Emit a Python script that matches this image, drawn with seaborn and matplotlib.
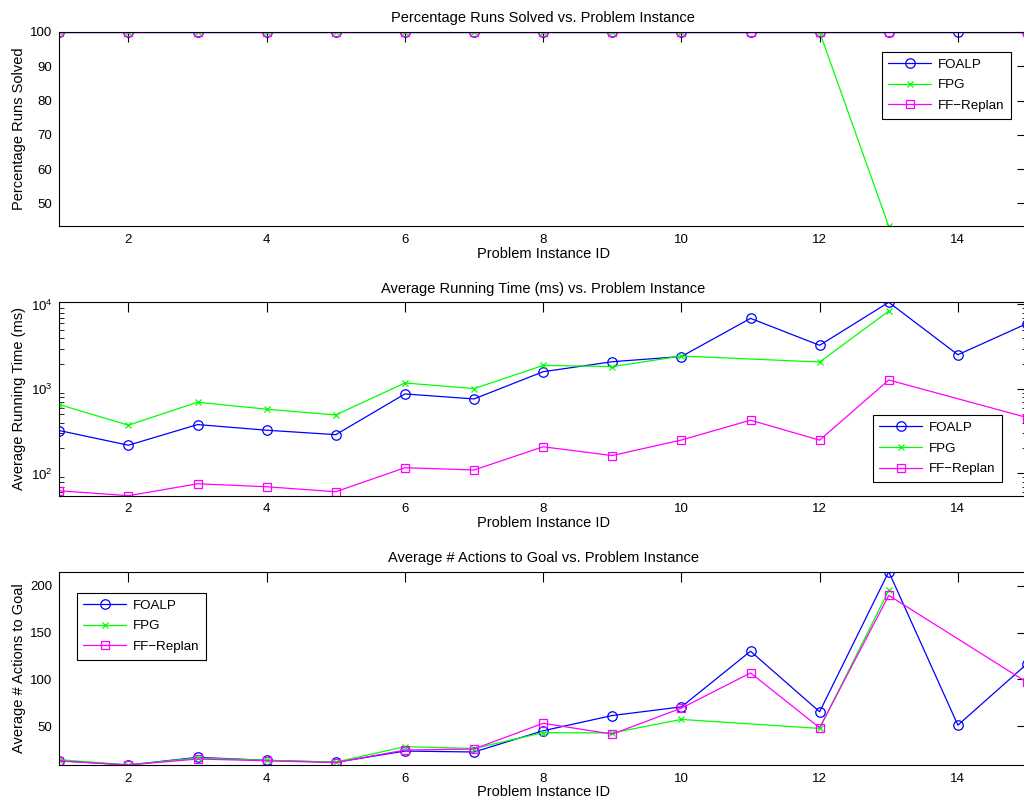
import matplotlib
matplotlib.use("Agg")
import matplotlib.pyplot as plt
import matplotlib.ticker as mticker
import seaborn as sns

# Problem instances covered by each planner
foalp_ids = [1, 2, 3, 4, 5, 6, 7, 8, 9, 10, 11, 12, 13, 14, 15]
fpg_ids = [1, 2, 3, 4, 5, 6, 7, 8, 9, 10, 12, 13]
ff_ids = [1, 2, 3, 4, 5, 6, 7, 8, 9, 10, 11, 12, 13, 15]

# Percentage of runs solved
foalp_solved = [100, 100, 100, 100, 100, 100, 100, 100, 100, 100, 100, 100, 100, 100, 100]
fpg_solved = [100, 100, 100, 100, 100, 100, 100, 100, 100, 100, 100, 43.3]
ff_solved = [100, 100, 100, 100, 100, 100, 100, 100, 100, 100, 100, 100, 100, 100]

# Average running time (ms)
foalp_time = [322, 216, 379, 325, 288, 873, 762, 1600, 2100, 2420, 6840, 3283, 10600, 2540, 5940]
fpg_time = [653, 373, 697, 576, 493, 1177, 1010, 1900, 1840, 2450, 2084, 8340]
ff_time = [62.5, 54.6, 75.5, 69.7, 60.8, 117, 110, 207, 163, 249, 427, 248, 1277, 459]

# Average number of actions to goal
foalp_actions = [13, 8.4, 16.6, 13.4, 11.3, 23.3, 22.3, 45, 61.3, 70.5, 130, 65.3, 215, 51, 116.5]
fpg_actions = [14.1, 8.5, 15.9, 13.4, 11.5, 28, 26, 43, 42.7, 57.1, 47.5, 195]
ff_actions = [12.7, 8.4, 14.8, 12.9, 11, 24.4, 25.5, 53, 41.4, 69.2, 106.8, 48.2, 189.7, 96.7]

series_names = ["FOALP", "FPG", "FF\u2212Replan"]
colors = ["#0000ff", "#00ff00", "#ff00ff"]
markers = ["o", "x", "s"]
marker_sizes = [6.8, 4.5, 5.6]

panels = [
    dict(title="Percentage Runs Solved vs. Problem Instance",
         ylabel="Percentage Runs Solved",
         data=[foalp_solved, fpg_solved, ff_solved],
         log=False, yticks=[50, 60, 70, 80, 90, 100],
         legend_anchor=(881.7, 51.7)),
    dict(title="Average Running Time (ms) vs. Problem Instance",
         ylabel="Average Running Time (ms)",
         data=[foalp_time, fpg_time, ff_time],
         log=True, yticks=None,
         legend_anchor=(872.7, 415.0)),
    dict(title="Average # Actions to Goal vs. Problem Instance",
         ylabel="Average # Actions to Goal",
         data=[foalp_actions, fpg_actions, ff_actions],
         log=False, yticks=[50, 100, 150, 200],
         legend_anchor=(76.7, 592.7)),
]
id_lists = [foalp_ids, fpg_ids, ff_ids]
xticks = [2, 4, 6, 8, 10, 12, 14]

sns.set_theme(style="white")
plt.rcParams["font.family"] = ["Liberation Sans", "DejaVu Sans"]
plt.rcParams["axes.edgecolor"] = "black"
plt.rcParams["axes.linewidth"] = 0.8
plt.rcParams["text.color"] = "black"
plt.rcParams["axes.labelcolor"] = "black"
plt.rcParams["xtick.color"] = "black"
plt.rcParams["ytick.color"] = "black"
plt.rcParams["mathtext.fontset"] = "custom"
plt.rcParams["mathtext.rm"] = "Liberation Sans"

W, H = 1024, 801
fig = plt.figure(figsize=(W / 100, H / 100), dpi=100)
fig.patch.set_facecolor("white")

# axes boxes in pixels: (left, top, right, bottom)
boxes = [(59.3, 32.0, 1027.0, 226.3),
         (59.3, 302.3, 1027.0, 495.7),
         (59.3, 571.7, 1027.0, 765.0)]

for panel, (l, t, r, b) in zip(panels, boxes):
    ax = fig.add_axes([l / W, 1 - b / H, (r - l) / W, (b - t) / H])
    ax.set_facecolor("white")
    for ids, vals, name, c, m, ms in zip(id_lists, panel["data"], series_names,
                                         colors, markers, marker_sizes):
        sns.lineplot(x=ids, y=vals, ax=ax, color=c, linewidth=0.9,
                     marker=m, markersize=ms, markerfacecolor="none",
                     markeredgecolor=c, markeredgewidth=0.9,
                     label=name, errorbar=None, sort=False, legend=False)
    if panel["log"]:
        ax.set_yscale("log")
    all_vals = [v for s in panel["data"] for v in s]
    ax.set_xlim(1, 15)
    ax.set_ylim(min(all_vals), max(all_vals))
    ax.set_xticks(xticks)
    if panel["yticks"] is not None:
        ax.set_yticks(panel["yticks"])
    else:
        ax.yaxis.set_major_locator(mticker.LogLocator(base=10))
        ax.yaxis.set_minor_locator(mticker.LogLocator(base=10, subs=range(2, 10)))
        ax.yaxis.set_minor_formatter(mticker.NullFormatter())
    ax.tick_params(which="major", direction="in", length=7, width=0.8,
                   top=True, right=True, labelsize=9.5)
    ax.tick_params(axis="x", which="major", pad=5.5)
    ax.tick_params(axis="y", which="major", pad=5)
    ax.tick_params(which="minor", direction="in", length=3.5, width=0.6,
                   left=True, right=True)
    for sp in ax.spines.values():
        sp.set_visible(True)
        sp.set_color("black")
    ax.set_title(panel["title"], fontsize=10.5, pad=7)
    ax.set_xlabel("Problem Instance ID", fontsize=10.5, labelpad=0.5)
    ax.set_ylabel(panel["ylabel"], fontsize=10.5, labelpad=3)
    ax.grid(False)
    lx, ly = panel["legend_anchor"]
    leg = ax.legend(loc="upper left", bbox_to_anchor=(lx / W, 1 - ly / H),
                    bbox_transform=fig.transFigure, borderaxespad=0,
                    fontsize=9.6, frameon=True, fancybox=False, shadow=False,
                    handlelength=3.2, labelspacing=0.62, borderpad=0.5,
                    handletextpad=0.5)
    leg.get_frame().set_edgecolor("black")
    leg.get_frame().set_linewidth(0.8)
    leg.get_frame().set_alpha(1)

fig.savefig("out.png", dpi=100, facecolor="white")
